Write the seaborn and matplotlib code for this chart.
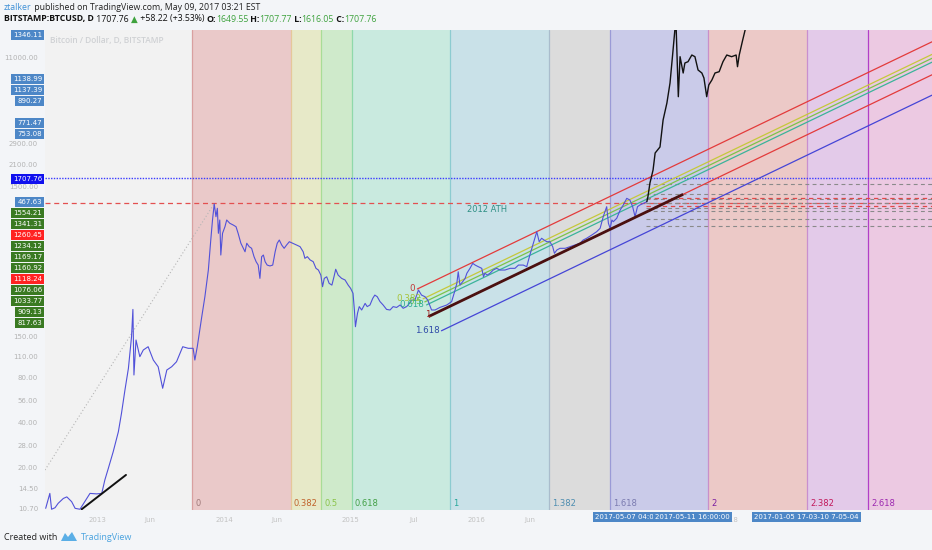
import numpy as np
import pandas as pd
import matplotlib
matplotlib.use('Agg')
import matplotlib.pyplot as plt
import matplotlib.transforms as mtransforms
from matplotlib.ticker import FixedLocator, NullLocator
from matplotlib.patches import Polygon
import seaborn as sns

sns.set_theme(style='white')
plt.rcParams['font.family'] = ['DejaVu Sans']

# ---------------- data (x = days since 2013-01-01, y = USD price) ----------------
EPOCH = '2013-01-01'

blue_day = [-151, -139, -134, -124, -115, -100, -90, -76, -66, -52,
            -38, -23, -4, 11, 20, 30, 44, 59, 68, 78,
            88, 97, 101, 104, 110, 121, 131, 145, 160, 174,
            187, 199, 213, 227, 245, 261, 275, 280, 287, 300,
            309, 319, 326, 331, 336, 341, 345, 348, 352, 355,
            360, 367, 372, 381, 391, 399, 405, 413, 420, 425,
            430, 437, 444, 451, 457, 463, 468, 473, 478, 483,
            489, 497, 505, 512, 518, 524, 531, 538, 545, 553,
            563, 574, 584, 593, 598, 605, 613, 622, 630, 637,
            644, 649, 654, 661, 668, 676, 682, 687, 694, 704,
            714, 723, 730, 737, 741, 744, 750, 755, 762, 767,
            772, 778, 786, 794, 800, 807, 815, 824, 834, 844,
            853, 863, 873, 882, 892, 900, 907, 916, 926, 935,
            945, 953, 964, 974, 988, 1008, 1022, 1032, 1037, 1041,
            1046, 1054, 1061, 1066, 1075, 1083, 1090, 1099, 1109, 1114,
            1118, 1125, 1133, 1142, 1152, 1162, 1176, 1191, 1205, 1215,
            1229, 1239, 1248, 1258, 1268, 1275, 1282, 1289, 1297, 1306,
            1314, 1319, 1326, 1335, 1350, 1364, 1378, 1393, 1402, 1412,
            1427, 1441, 1451, 1460, 1465, 1470, 1475, 1480, 1485, 1489,
            1499, 1509, 1518, 1528, 1537, 1545, 1552, 1559, 1566, 1576,
            1586]
blue_price = [10.65, 13.4, 10.5, 10.75, 11.5, 12.4, 12.7, 11.8, 10.65, 10.5,
              11.8, 13.4, 13.3, 13.4, 16.5, 19.7, 25.4, 34.6, 45.9, 65.7,
              91.7, 149, 227, 82.8, 141.8, 109.7, 121.6, 127.9, 104.2, 94,
              67.5, 89.4, 94, 101.5, 127.9, 124.8, 124.8, 104.2, 127.9, 203,
              276, 416, 660, 898, 1150, 945, 1075, 732, 898, 524,
              732, 810, 898, 854, 831, 810, 732, 628, 581, 551,
              628, 596, 581, 511, 473, 449, 366, 511, 524, 473,
              449, 443, 449, 551, 628, 660, 611, 581, 611, 643,
              628, 611, 596, 551, 498, 511, 486, 473, 427, 416,
              385, 322, 366, 375, 339, 330, 375, 421, 385, 366,
              357, 330, 314, 291, 225, 174, 214, 237, 225, 237,
              249, 237, 243, 269, 283, 276, 256, 243, 227, 225,
              237, 234, 243, 231, 237, 249, 262, 262, 306, 283,
              276, 262, 225, 225, 234, 243, 256, 306, 339, 405,
              330, 348, 366, 396, 427, 461, 449, 438, 427, 375,
              396, 385, 396, 416, 427, 416, 416, 427, 427, 449,
              449, 438, 524, 628, 750, 643, 678, 660, 643, 643,
              596, 538, 566, 581, 581, 596, 611, 628, 660, 678,
              713, 750, 790, 945, 1020, 1102, 854, 790, 898, 875,
              922, 1047, 1131, 1253, 1221, 1102, 945, 1102, 1131, 1161,
              1190]

black_day = [1586, 1589, 1595, 1604, 1610, 1624, 1633, 1644, 1653, 1661,
             1667, 1670, 1677, 1682, 1691, 1696, 1705, 1716, 1725, 1734,
             1745, 1751, 1759, 1765, 1774, 1783, 1795, 1806, 1817, 1831,
             1844, 1848, 1853, 1863, 1870, 1873]
black_price = [1190, 1279, 1586, 1938, 2517, 2761, 4181, 5432, 7389, 11720,
               16690, 19500, 5984, 11070, 8614, 10050, 10250, 11360, 11070, 9023,
               8614, 7980, 5984, 7165, 7738, 8614, 8790, 10250, 11360, 11070,
               11360, 9493, 11360, 14310, 16690, 19500]

# Fibonacci time zones
fib_time_start = 272
fib_time_span = 746
fib_time_levels = [0, 0.382, 0.5, 0.618, 1, 1.382, 1.618, 2, 2.382, 2.618]
fib_time_labels = ['0', '0.382', '0.5', '0.618', '1', '1.382', '1.618', '2', '2.382', '2.618']

# Fibonacci channel (two points on level 0, third point on level 1)
chan_day = [923, 2395]
chan_price = [311, 13395]
chan_width_day = 966
chan_width_price = 209
chan_levels = [0, 0.382, 0.5, 0.618, 1, 1.618]
chan_labels = ['0', '0.382', '0.5', '0.618', '1', '1.618']
trend_start_day = 955
trend_end_day = 1691

# other drawings
early_trend_day = [-47, 81]
early_trend_price = [10.5, 17.8]
dotted_day = [-153, 335]
dotted_price = [19.2, 1148]
last_price = 1707.76
ath_price = 1163
ath_text_day = 1124
ath_text_price = 1063
hline_start_day = 1583
gray_levels = [1554.21, 1341.31, 1234.12, 1169.17, 1160.92, 1076.06, 1033.77, 909.13, 817.63]
red_levels = [1260.45, 1118.24]

# left price-scale label boxes
box_texts = ['1346.11', '1138.99', '1137.39', '890.27', '771.47', '753.08', '1707.76',
             '467.63', '1554.21', '1341.31', '1260.45', '1234.12', '1169.17', '1160.92',
             '1118.24', '1076.06', '1033.77', '909.13', '817.63']
box_kinds = ['b', 'b', 'b', 'b', 'b', 'b', 'cur',
             'b', 'g', 'g', 'r', 'g', 'g', 'g', 'r', 'g', 'g', 'g', 'g']

ytick_vals = [10.7, 14.5, 20, 28, 40, 56, 80, 110, 150, 1500, 2100, 2900, 11000]
xtick_dates = ['2013-01-01', '2013-06-01', '2014-01-01', '2014-06-01', '2015-01-01',
               '2015-07-01', '2016-01-01', '2016-06-01', '2018-01-01']
xtick_labels = ['2013', 'Jun', '2014', 'Jun', '2015', 'Jul', '2016', 'Jun', '2018']
date_box_texts = ['2017-05-07 04:0', '2017-05-11 16:00:00', '2017-01-05 17-03-10 7-05-04']

# ---------------- layout / style ----------------
W, H = 932, 550
X_LEFT, X_RIGHT = -153, 2410
Y_LOW, Y_HIGH = 10.38, 16690

box_y_px = [35, 79, 90, 101, 123, 134, 179, 202, 213, 224, 235, 246, 257, 268, 279, 290, 301, 312, 323]
box_colors = {'b': '#4d87c7', 'cur': '#1010ee', 'g': '#3a7a22', 'r': '#ff2222'}
date_box_x_px = [595, 655, 754]

zone_fill = ['#eac9c9', '#e7e9c8', '#cfeacb', '#c9eadf', '#c9e1e8', '#dcdcdc',
             '#cacbe9', '#ecc9c7', '#e3cae9', '#ecc9e2']
zone_line = ['#d9a0a0', '#e6c79a', '#a9dc96', '#8fd9aa', '#8ccbd0', '#a9bccc',
             '#9a9ad6', '#c98fc9', '#c88fcf', '#b23fc8']
zone_text = ['#a07a7a', '#c0622b', '#8bc34a', '#43a047', '#26a69a', '#4d8db0',
             '#7b7bb0', '#7b1fa2', '#c2185b', '#9c27b0']
chan_colors = ['#e33b3b', '#c6c83a', '#7cc34a', '#3bb39a', '#e33b3b', '#4545d6']
chan_text_colors = ['#c03a3a', '#a8c23a', '#6cbf4a', '#2fae93', '#a02525', '#2f4aa8']

fig = plt.figure(figsize=(W / 100, H / 100), dpi=100, facecolor='#f3f5f8')
ax = fig.add_axes([45 / W, 40 / H, (W - 45) / W, 480 / H])
ax.set_facecolor('#f2f2f2')
for s in ax.spines.values():
    s.set_visible(False)

# Fibonacci time zones
bounds = [fib_time_start + l * fib_time_span for l in fib_time_levels] + [X_RIGHT + 50]
xform = mtransforms.blended_transform_factory(ax.transData, ax.transAxes)
for i, lab in enumerate(fib_time_labels):
    ax.axvspan(bounds[i], bounds[i + 1], color=zone_fill[i], lw=0, zorder=0)
    ax.axvline(bounds[i], color=zone_line[i], lw=0.9, zorder=1)
    ax.text(bounds[i] + 9, 0.004, lab, transform=xform, color=zone_text[i],
            fontsize=6, ha='left', va='bottom', zorder=3)

# horizontal levels
ax.axhline(last_price, color='#3b3bff', lw=1.0, ls=(0, (1, 1)), zorder=4)
ax.axhline(ath_price, color='#e35050', lw=0.9, ls=(0, (4, 3)), zorder=4)
for p in gray_levels:
    ax.hlines(p, hline_start_day, X_RIGHT, color='#8a8a8a', lw=0.8, ls=(0, (3.5, 3)), zorder=4)
for p in red_levels:
    ax.hlines(p, hline_start_day, X_RIGHT, color='#e04848', lw=0.9, ls=(0, (3.5, 3)), zorder=4)

# Fibonacci channel
la = np.log10(chan_price[0])
lb = np.log10(chan_price[1])
slope = (lb - la) / (chan_day[1] - chan_day[0])
delta = np.log10(chan_width_price) - (la + slope * (chan_width_day - chan_day[0]))
step = chan_width_day - chan_day[0]
def chan_val(d, lvl):
    return 10 ** (la + slope * (np.asarray(d, float) - chan_day[0]) + lvl * delta)
for lvl, lab, c, tc in zip(chan_levels, chan_labels, chan_colors, chan_text_colors):
    st = chan_day[0] + lvl * step
    xs = np.array([st, X_RIGHT])
    ax.plot(xs, chan_val(xs, lvl), color=c, lw=0.9, zorder=5)
    ax.text(st - 6, chan_val(st, lvl), lab, color=tc, fontsize=6.3,
            ha='right', va='center', zorder=8)
tx = np.array([trend_start_day, trend_end_day])
ax.plot(tx, chan_val(tx, 1), color='#4a1010', lw=2.0, zorder=7, solid_capstyle='butt')

# other drawings
ax.plot(early_trend_day, early_trend_price, color='#111111', lw=1.4, zorder=7)
ax.plot(dotted_day, dotted_price, color='#b5b5b5', lw=0.8, ls=(0, (1, 2)), zorder=3)
ax.text(ath_text_day, ath_text_price, '2012 ATH', color='#2f8f85', fontsize=6,
        ha='center', va='center', zorder=8)

# price series
sns.lineplot(x=blue_day, y=blue_price, ax=ax, color='#5151d9', lw=0.8,
             estimator=None, sort=False, zorder=6)
sns.lineplot(x=black_day, y=black_price, ax=ax, color='#111111', lw=1.0,
             estimator=None, sort=False, zorder=6)

ax.set_yscale('log')
ax.set_xlim(X_LEFT, X_RIGHT)
ax.set_ylim(Y_LOW, Y_HIGH)
ax.yaxis.set_major_locator(FixedLocator(ytick_vals))
ax.yaxis.set_minor_locator(NullLocator())
ax.set_yticklabels([f'{v:.2f}' for v in ytick_vals])
epoch = pd.Timestamp(EPOCH)
ax.set_xticks([(pd.Timestamp(d) - epoch).days for d in xtick_dates])
ax.set_xticklabels(xtick_labels)
ax.tick_params(axis='y', length=0, pad=5, labelsize=5, labelcolor='#b3b3b3')
ax.tick_params(axis='x', length=0, pad=5, labelsize=5, labelcolor='#c2c2c2')
ax.set_xlabel('')
ax.set_ylabel('')
ax.grid(False)

# watermark
fig.text(50 / W, 1 - 41 / H, 'Bitcoin / Dollar, D, BITSTAMP', color='#cfd1d4',
         fontsize=6, family=['Open Sans', 'DejaVu Sans'], weight='semibold',
         ha='left', va='center')

# left label boxes
for txt, kind, ypx in zip(box_texts, box_kinds, box_y_px):
    fig.text(42 / W, 1 - ypx / H, txt, ha='right', va='center', fontsize=5,
             color='white', bbox=dict(boxstyle='square,pad=0.28', fc=box_colors[kind], ec='none'))

# bottom date boxes
for txt, xpx in zip(date_box_texts, date_box_x_px):
    fig.text(xpx / W, 1 - 517 / H, txt, ha='left', va='center', fontsize=5,
             color='white', bbox=dict(boxstyle='square,pad=0.3', fc='#4d87c7', ec='none'))

# header rows (sequential coloured pieces)
renderer = fig.canvas.get_renderer()
def seq_text(x_px, y_px, parts, size):
    x = x_px / W
    for txt, col, wt in parts:
        t = fig.text(x, 1 - y_px / H, txt, color=col, weight=wt, fontsize=size,
                     family=['Open Sans', 'DejaVu Sans'], ha='left', va='center')
        bb = t.get_window_extent(renderer)
        x = bb.x1 / fig.bbox.width

GREEN = '#3ea23e'
seq_text(4, 7, [('ztalker', '#3d8fd6', 'normal'),
                (' published on TradingView.com, May 09, 2017 03:21 EST', '#222222', 'normal')], 6.3)
seq_text(4, 19, [('BITSTAMP:BTCUSD, D', '#111111', 'bold'),
                 (' 1707.76 ', '#111111', 'normal'),
                 ('\u25B2', GREEN, 'normal'),
                 (' +58.22 (+3.53%) ', '#111111', 'normal'),
                 ('O:', '#111111', 'bold'), ('1649.55', GREEN, 'normal'),
                 (' H:', '#111111', 'bold'), ('1707.77', GREEN, 'normal'),
                 (' L:', '#111111', 'bold'), ('1616.05', GREEN, 'normal'),
                 (' C:', '#111111', 'bold'), ('1707.76', GREEN, 'normal')], 6.3)

# footer
fig.text(4 / W, 1 - 537 / H, 'Created with', color='#222222', fontsize=6.5,
         family=['Open Sans', 'DejaVu Sans'], ha='left', va='center')
logo = Polygon([[61 / W, 1 - 541 / H], [65 / W, 1 - 533 / H], [68 / W, 1 - 537 / H],
                [72 / W, 1 - 532 / H], [77 / W, 1 - 541 / H]], closed=True,
               transform=fig.transFigure, fc='#5aaee6', ec='none')
fig.add_artist(logo)
fig.text(81 / W, 1 - 537 / H, 'TradingView', color='#4aa3df', fontsize=6.5,
         family=['Open Sans', 'DejaVu Sans'], ha='left', va='center')

fig.savefig('out.png', dpi=100, facecolor=fig.get_facecolor())
